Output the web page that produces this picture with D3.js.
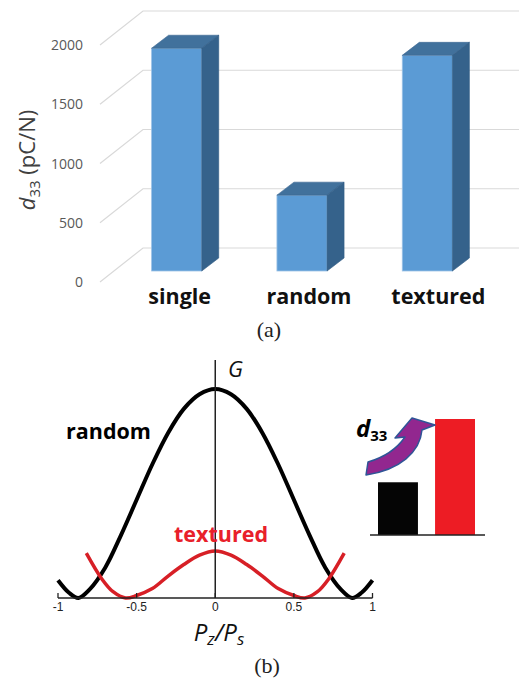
<!DOCTYPE html>
<html>
<head>
<meta charset="utf-8">
<script src="https://cdn.jsdelivr.net/npm/d3@7"></script>
<style>
  body { margin: 0; background: #fff; }
  svg { display: block; }
</style>
</head>
<body>
<svg id="fig" width="519" height="679"></svg>
<script>
// ---- (a) d33 of the three samples ----
const categories = ["single", "random", "textured"];
const d33Values = [1880, 640, 1820];
const d33Ticks = [0, 500, 1000, 1500, 2000];

// ---- (b) G vs Pz/Ps ----
const pRandom = [-1, -0.93, -0.87, -0.8, -0.7, -0.6, -0.5, -0.4, -0.3, -0.2, -0.1, 0,
                 0.1, 0.2, 0.3, 0.4, 0.5, 0.6, 0.7, 0.8, 0.87, 0.93, 1];
const gRandom = [0.085, 0.025, 0, 0.04, 0.145, 0.3, 0.47, 0.64, 0.79, 0.905, 0.975, 1,
                 0.975, 0.905, 0.79, 0.64, 0.47, 0.3, 0.145, 0.04, 0, 0.025, 0.085];
const pTextured = [-0.82, -0.72, -0.65, -0.57, -0.5, -0.4, -0.3, -0.2, -0.1, 0,
                   0.1, 0.2, 0.3, 0.4, 0.5, 0.57, 0.65, 0.72, 0.82];
const gTextured = [0.215, 0.09, 0.03, 0, 0.012, 0.045, 0.105, 0.16, 0.205, 0.225,
                   0.205, 0.16, 0.105, 0.045, 0.012, 0, 0.03, 0.09, 0.215];
const pTicks = [-1, -0.5, 0, 0.5, 1];

// inset: d33 of random vs textured (schematic)
const insetCats = ["random", "textured"];
const insetValues = [1, 2.2];
const insetColors = ["#050505", "#ed1c24"];

const svg = d3.select("#fig");
const font = "'Open Sans', 'DejaVu Sans', sans-serif";
const serif = "'Liberation Serif', 'DejaVu Serif', serif";

// ================= (a) =================
const depthX = 43, depthY = -34;          // back wall offset
const barOffX = 14, barOffY = -11;        // bar front face inside the depth
const barDX = 17, barDY = -13;            // bar thickness

const x = d3.scaleBand().domain(categories).range([100, 476])
  .paddingInner(0.6).paddingOuter(0.3);
const y = d3.scaleLinear().domain([0, 2000]).range([282, 45]);

const gridG = svg.append("g").attr("fill", "none").attr("stroke", "#d9d9d9").attr("stroke-width", 1.2);
d33Ticks.forEach(function (t) {
  gridG.append("path")
    .attr("d", "M100," + y(t) + "L" + (100 + depthX) + "," + (y(t) + depthY) + "L519," + (y(t) + depthY));
});

svg.append("g").selectAll("text").data(d33Ticks).enter().append("text")
  .attr("x", 83).attr("y", d => y(d) + 5)
  .attr("text-anchor", "end")
  .attr("font-family", font).attr("font-size", 14).attr("fill", "#595959")
  .text(d => d);

const yLab = svg.append("text")
  .attr("transform", "translate(35,160) rotate(-90)")
  .attr("text-anchor", "middle")
  .attr("font-family", font).attr("font-size", 22).attr("fill", "#404040");
yLab.append("tspan").attr("font-style", "italic").text("d");
yLab.append("tspan").attr("font-size", 15).attr("dy", 5).text("33");
yLab.append("tspan").attr("dy", -5).text(" (pC/N)");

const bars = svg.append("g").selectAll("g").data(categories).enter().append("g");
bars.each(function (c, i) {
  const g = d3.select(this);
  const bw = x.bandwidth();
  const x0 = x(c) + barOffX;
  const yT = y(d33Values[i]) + barOffY;
  const yB = y(0) + barOffY;
  g.append("rect")
    .attr("x", x0).attr("y", yT).attr("width", bw).attr("height", yB - yT)
    .attr("fill", "#5b9bd5").attr("stroke", "#9dc3e6").attr("stroke-width", 0.8);
  g.append("path")
    .attr("d", d3.line()([[x0, yT], [x0 + barDX, yT + barDY], [x0 + bw + barDX, yT + barDY], [x0 + bw, yT]]) + "Z")
    .attr("fill", "#41719c").attr("stroke", "#3a6792").attr("stroke-width", 0.6);
  g.append("path")
    .attr("d", d3.line()([[x0 + bw, yT], [x0 + bw + barDX, yT + barDY], [x0 + bw + barDX, yB + barDY], [x0 + bw, yB]]) + "Z")
    .attr("fill", "#35628b").attr("stroke", "#315c84").attr("stroke-width", 0.6);
});

svg.append("g").selectAll("text").data(categories).enter().append("text")
  .attr("x", (d, i) => x(d) + x.bandwidth() / 2 + 17 + i * 4)
  .attr("y", 304)
  .attr("text-anchor", "middle")
  .attr("font-family", font).attr("font-size", 21.5).attr("font-weight", "bold").attr("fill", "#111")
  .text(d => d);

svg.append("text").attr("x", 269).attr("y", 337).attr("text-anchor", "middle")
  .attr("font-family", serif).attr("font-size", 22)
  .attr("fill", "#222").text("(a)");

// ================= (b) =================
const px = d3.scaleLinear().domain([-1, 1]).range([58, 372.5]);
const gy = d3.scaleLinear().domain([0, 1]).range([598, 389]);

const line = d3.line().x(d => px(d[0])).y(d => gy(d[1])).curve(d3.curveCatmullRom.alpha(0.5));

svg.append("path")
  .attr("d", line(d3.zip(pRandom, gRandom)))
  .attr("fill", "none").attr("stroke", "#000").attr("stroke-width", 4);
svg.append("path")
  .attr("d", line(d3.zip(pTextured, gTextured)))
  .attr("fill", "none").attr("stroke", "#d71f26").attr("stroke-width", 3.5);

// axes
svg.append("line").attr("x1", px(-1)).attr("x2", px(1)).attr("y1", gy(0)).attr("y2", gy(0))
  .attr("stroke", "#222").attr("stroke-width", 1.5);
svg.append("line").attr("x1", px(0)).attr("x2", px(0)).attr("y1", 360).attr("y2", gy(0))
  .attr("stroke", "#222").attr("stroke-width", 1.5);
svg.append("g").selectAll("line").data(pTicks).enter().append("line")
  .attr("x1", d => px(d)).attr("x2", d => px(d))
  .attr("y1", gy(0)).attr("y2", gy(0) - 5)
  .attr("stroke", "#222").attr("stroke-width", 1.3);
svg.append("g").selectAll("text").data(pTicks).enter().append("text")
  .attr("x", d => px(d)).attr("y", 611)
  .attr("text-anchor", "middle")
  .attr("font-family", "'Liberation Sans', Arial, sans-serif").attr("font-size", 12).attr("fill", "#222")
  .text(d => d);

svg.append("text").attr("x", 228).attr("y", 377)
  .attr("font-family", font).attr("font-style", "italic").attr("font-size", 22).attr("fill", "#111")
  .text("G");

const xLab = svg.append("text").attr("x", 219).attr("y", 641).attr("text-anchor", "middle")
  .attr("font-family", font).attr("font-style", "italic").attr("font-size", 24).attr("fill", "#111");
xLab.append("tspan").text("P");
xLab.append("tspan").attr("font-size", 17).attr("dy", 4).text("z");
xLab.append("tspan").attr("dy", -4).text("/P");
xLab.append("tspan").attr("font-size", 17).attr("dy", 4).text("s");

svg.append("text").attr("x", 66).attr("y", 439)
  .attr("font-family", font).attr("font-size", 21.5).attr("font-weight", "bold").attr("fill", "#000")
  .text("random");
svg.append("text").attr("x", 174).attr("y", 542)
  .attr("font-family", font).attr("font-size", 21.5).attr("font-weight", "bold").attr("fill", "#e8202a")
  .text("textured");

// inset
const ix = d3.scaleBand().domain(insetCats).range([378, 475]).paddingInner(0.3);
const iy = d3.scaleLinear().domain([0, 2.2]).range([535, 419]);
svg.append("g").selectAll("rect").data(insetCats).enter().append("rect")
  .attr("x", d => ix(d)).attr("width", ix.bandwidth())
  .attr("y", (d, i) => iy(insetValues[i]))
  .attr("height", (d, i) => iy(0) - iy(insetValues[i]))
  .attr("fill", (d, i) => insetColors[i]);
svg.append("line").attr("x1", 370).attr("x2", 485).attr("y1", iy(0)).attr("y2", iy(0))
  .attr("stroke", "#222").attr("stroke-width", 1.5);

// curved arrow from black bar to red bar
svg.append("path")
  .attr("d", "M368,462 C382,458 396,450 405,437 L395,438 L412,418 L435,425 L422,430 C420,452 400,470 366,475 Z")
  .attr("fill", "#92278f").attr("stroke", "#2f5597").attr("stroke-width", 1.5).attr("stroke-linejoin", "round");

const dLab = svg.append("text").attr("x", 356).attr("y", 437)
  .attr("font-family", font).attr("font-weight", "bold").attr("fill", "#000");
dLab.append("tspan").attr("font-size", 24).attr("font-style", "italic").text("d");
dLab.append("tspan").attr("font-size", 15).attr("dy", 4).text("33");

svg.append("text").attr("x", 267).attr("y", 673).attr("text-anchor", "middle")
  .attr("font-family", serif).attr("font-size", 22)
  .attr("fill", "#222").text("(b)");
</script>
</body>
</html>
